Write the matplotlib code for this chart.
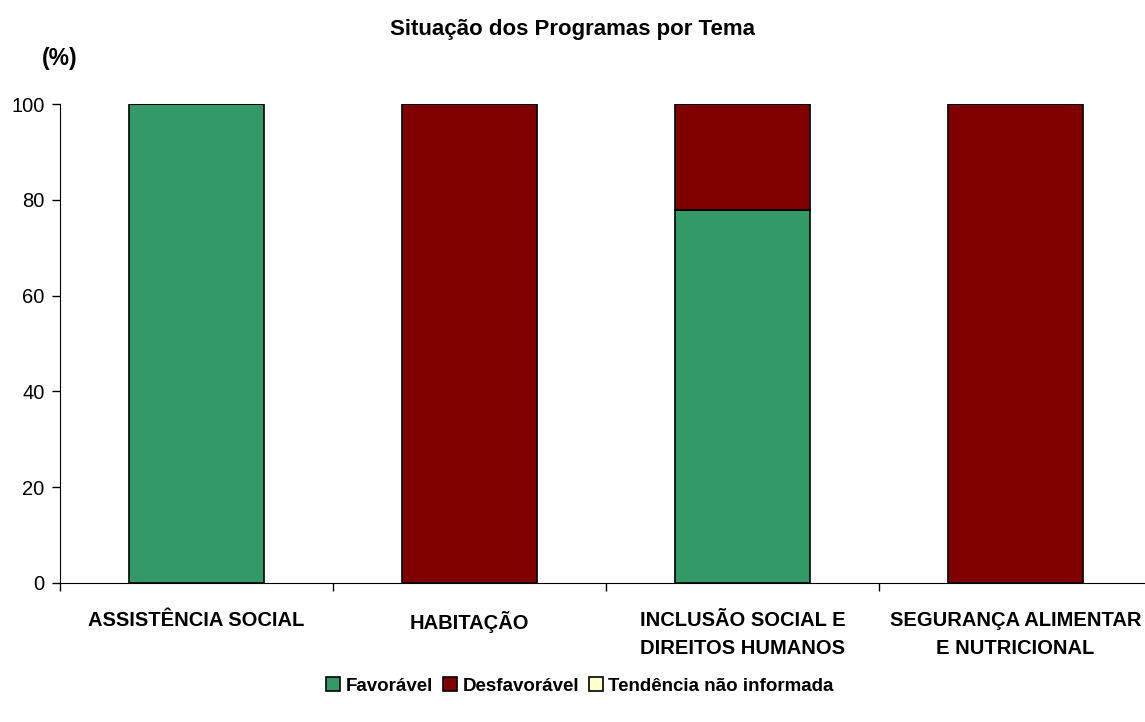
import matplotlib.pyplot as plt
from matplotlib.patches import Patch
import numpy as np

plt.rcParams['font.family'] = ['Liberation Sans', 'DejaVu Sans']

# dados
temas = ['ASSISTÊNCIA SOCIAL', 'HABITAÇÃO', 'INCLUSÃO SOCIAL E\nDIREITOS HUMANOS',
         'SEGURANÇA ALIMENTAR\nE NUTRICIONAL']
favoravel = [100, 0, 77.8, 0]
desfavoravel = [0, 100, 22.2, 100]
nao_informada = [0, 0, 0, 0]
series = ['Favorável', 'Desfavorável', 'Tendência não informada']
cores = ['#339966', '#800000', '#FFFFCC']

fig = plt.figure(figsize=(11.45, 7.22), dpi=100)
ax = fig.add_axes([60 / 1145, 139 / 722, 1092 / 1145, 479 / 722])

x = np.arange(len(temas))
ax.bar(x, favoravel, width=0.495, color=cores[0], edgecolor='black', linewidth=1.2)
ax.bar(x, desfavoravel, width=0.495, bottom=favoravel, color=cores[1], edgecolor='black', linewidth=1.2)
base = np.array(favoravel) + np.array(desfavoravel)
ax.bar(x, nao_informada, width=0.495, bottom=base, color=cores[2], edgecolor='black', linewidth=1.2)

ax.set_xlim(-0.5, len(temas) - 0.5)
ax.set_ylim(0, 100)
ax.set_yticks(range(0, 101, 20))
ax.tick_params(axis='y', labelsize=14.5, length=6, width=1, pad=5)

ax.set_xticks(x)
ax.set_xticklabels(temas, fontsize=14.5, fontweight='bold', linespacing=1.6)
ax.tick_params(axis='x', which='major', length=0, pad=20)
ax.set_xticks(np.arange(-0.5, len(temas), 1), minor=True)
ax.tick_params(axis='x', which='minor', length=6, width=1)

ax.spines['top'].set_visible(False)
ax.spines['right'].set_visible(False)

fig.text(0.5, 1 - 29 / 722, 'Situação dos Programas por Tema', ha='center', va='center',
         fontsize=16, fontweight='bold')
fig.text(60 / 1145, 1 - 58 / 722, '(%)', ha='center', va='center', fontsize=16.5, fontweight='bold')

handles = [Patch(facecolor=c, edgecolor='black', linewidth=1.2, label=s) for c, s in zip(cores, series)]
fig.legend(handles=handles, loc='center', bbox_to_anchor=(580 / 1145, 1 - 686 / 722), ncol=3,
           frameon=False, handlelength=0.75, handleheight=0.75, handletextpad=0.3,
           columnspacing=0.5, prop={'size': 13.5, 'weight': 'bold'})

fig.savefig('out.png', dpi=100)
